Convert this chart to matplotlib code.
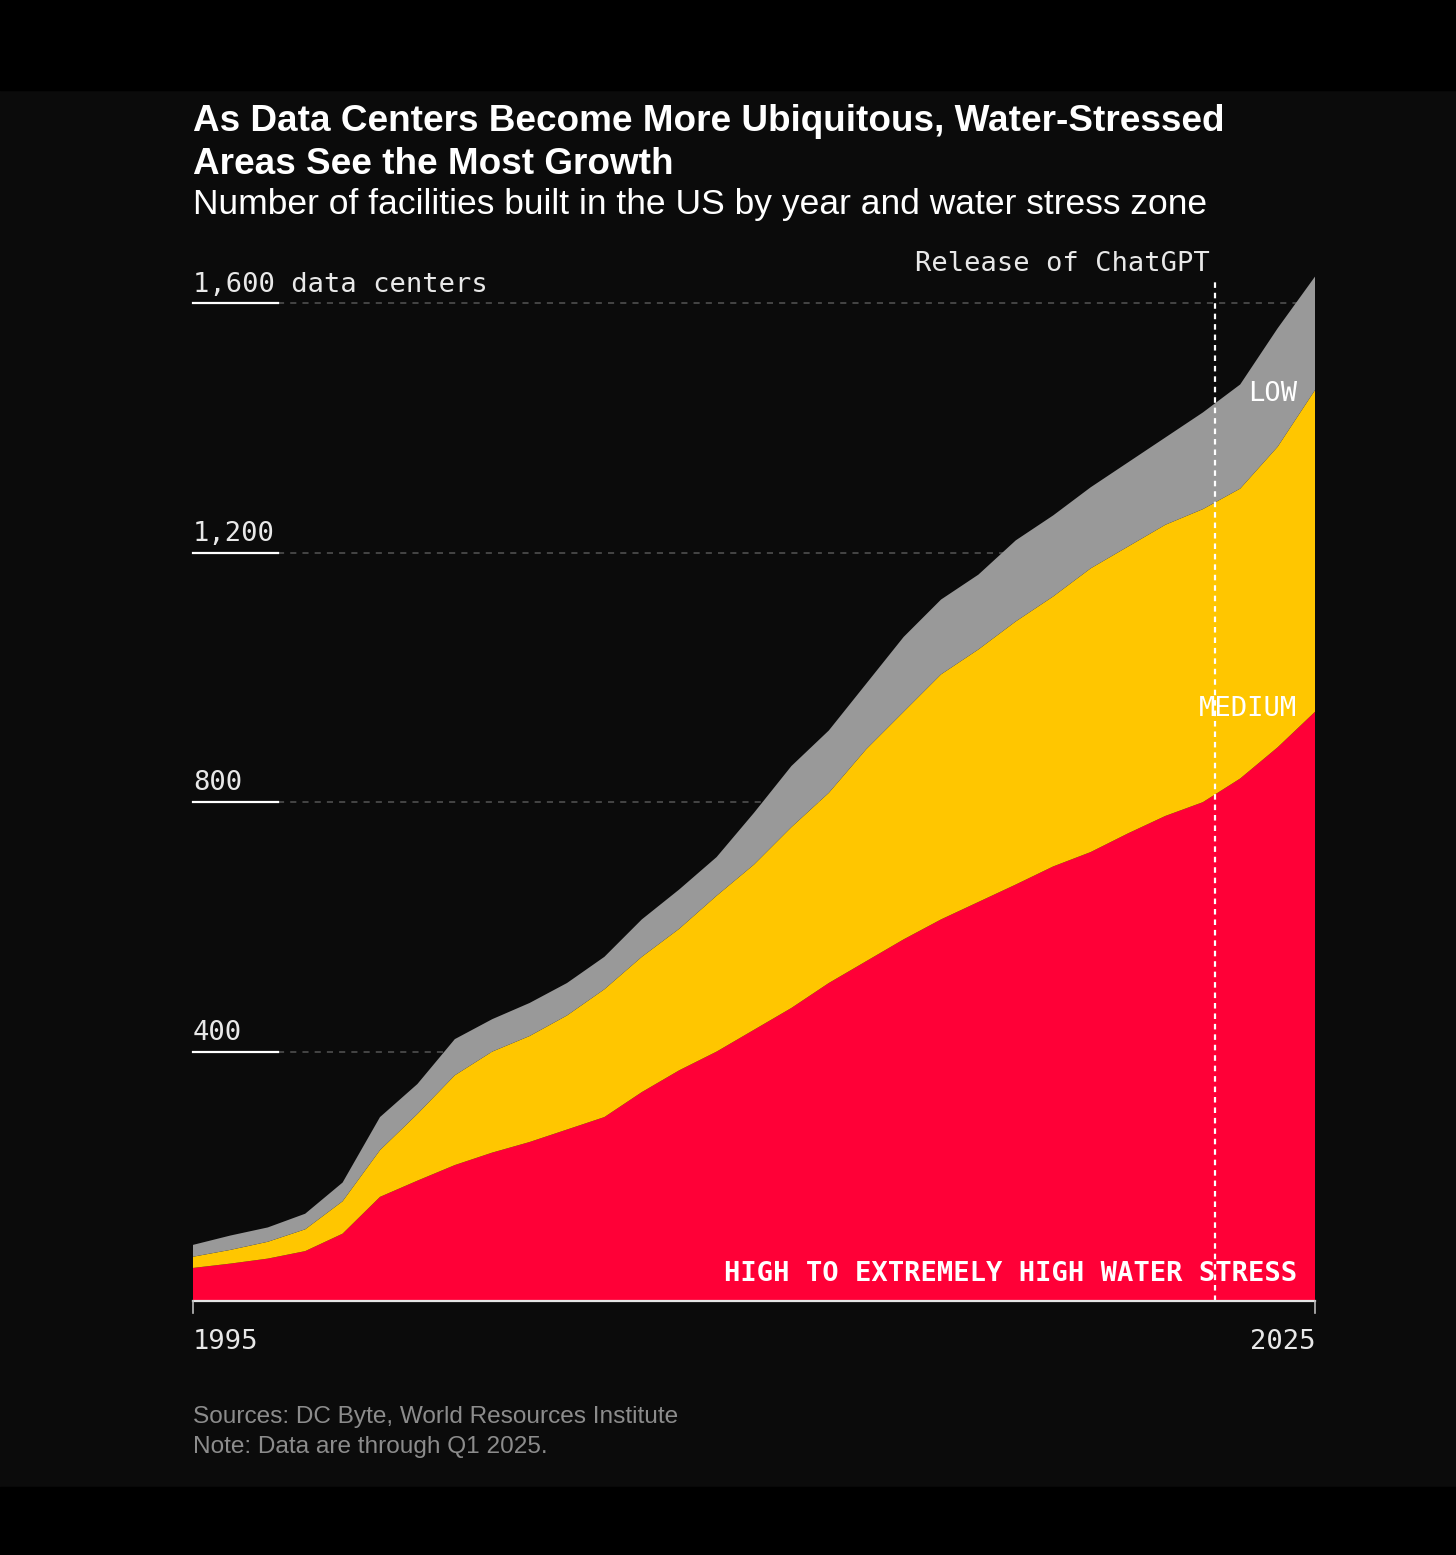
import numpy as np
import matplotlib.pyplot as plt
from matplotlib.patches import Rectangle

# Data (cumulative facilities by water stress zone)
years = list(range(1995, 2026))
high = [53, 60, 68, 80, 108, 167, 193, 218, 238, 255, 275, 295, 335, 370, 400, 435,
        470, 510, 545, 580, 612, 640, 668, 697, 720, 750, 778, 800, 838, 888, 945]
medium = [18, 22, 27, 35, 52, 75, 107, 144, 162, 170, 183, 205, 217, 227, 250, 265,
          290, 305, 340, 365, 393, 405, 422, 433, 455, 460, 467, 470, 465, 482, 516]
low = [19, 23, 23, 25, 30, 53, 48, 58, 52, 53, 52, 52, 60, 63, 62, 83,
       98, 100, 105, 120, 120, 120, 130, 130, 130, 135, 140, 155, 167, 190, 182]

yticks = [400, 800, 1200, 1600]
ytick_labels = ["400", "800", "1,200", "1,600 data centers"]
chatgpt_year = 2022.33

BG = "#0b0b0b"
RED = "#ff0037"
YELLOW = "#ffc600"
GRAY = "#999999"
MONO = "DejaVu Sans Mono"
SANS = "Liberation Sans"

W, H = 1456, 1555
fig = plt.figure(figsize=(W / 100, H / 100), dpi=100, facecolor=BG)


def fx(px):
    return px / W


def fy(py):
    return 1 - py / H


# black bands top and bottom
fig.patches.append(Rectangle((0, fy(90)), 1, 90 / H, transform=fig.transFigure,
                             color="black", zorder=0))
fig.patches.append(Rectangle((0, 0), 1, fy(1487), transform=fig.transFigure,
                             color="black", zorder=0))

ax = fig.add_axes([fx(193), fy(1301), fx(1315) - fx(193), fy(266) - fy(1301)])
ax.set_facecolor(BG)
ax.set_xlim(1995, 2025)
ax.set_ylim(0, 1660)
for s in ax.spines.values():
    s.set_visible(False)
ax.set_xticks([])
ax.set_yticks([])

# gridlines: short solid white underline then dashed gray
frac = (278 - 193) / (1315 - 193)
for t, lab in zip(yticks, ytick_labels):
    ax.axhline(t, xmin=frac, xmax=1, color="#555555", lw=1.1, ls=(0, (4, 4)), zorder=1)
    ax.axhline(t, xmin=0, xmax=frac, color="white", lw=1.6, zorder=5, clip_on=False)
    ax.text(1995, t + 19, lab, fontsize=19.5, family=MONO, color="#e8e8e8",
            ha="left", va="baseline")

ax.stackplot(years, high, medium, low, colors=[RED, YELLOW, GRAY], lw=0, zorder=2)

# x axis baseline and end ticks
ax.axhline(0, color="#e6e6e6", lw=1.6, zorder=6, clip_on=False)
for x in (1995, 2025):
    ax.plot([x, x], [0, -19], color="#bbbbbb", lw=1.2, clip_on=False, zorder=6)

# ChatGPT marker
ax.plot([chatgpt_year, chatgpt_year], [0, 1635], color="white", lw=1.6,
        ls=(0, (2.5, 2.2)), zorder=4, clip_on=False)
ax.text(chatgpt_year - 0.14, 1652, "Release of ChatGPT", fontsize=19.5, family=MONO,
        color="#e8e8e8", ha="right", va="baseline")

# zone labels
xr = 1995 + (1297 - 193) / 37.4
ax.text(xr, 1444, "LOW", fontsize=19.5, family=MONO, color="white",
        ha="right", va="baseline", zorder=7)
ax.text(xr, 938, "MEDIUM", fontsize=19.5, family=MONO, color="white",
        ha="right", va="baseline", zorder=7)
ax.text(xr, 32, "HIGH TO EXTREMELY HIGH WATER STRESS", fontsize=19.5, family=MONO,
        weight="bold", color="white", ha="right", va="baseline", zorder=7)

# x labels
fig.text(fx(193), fy(1349), "1995", fontsize=19.5, family=MONO, color="#e8e8e8",
         ha="left", va="baseline")
fig.text(fx(1315), fy(1349), "2025", fontsize=19.5, family=MONO, color="#e8e8e8",
         ha="right", va="baseline")

# titles
fig.text(fx(193), fy(131), "As Data Centers Become More Ubiquitous, Water-Stressed",
         fontsize=26.6, family=SANS, weight="bold", color="white", va="baseline")
fig.text(fx(193), fy(174), "Areas See the Most Growth",
         fontsize=26.6, family=SANS, weight="bold", color="white", va="baseline")
fig.text(fx(193), fy(214), "Number of facilities built in the US by year and water stress zone",
         fontsize=25.5, family=SANS, color="white", va="baseline")

# footer
fig.text(fx(193), fy(1423), "Sources: DC Byte, World Resources Institute",
         fontsize=17.6, family=SANS, color="#8c8c8c", va="baseline")
fig.text(fx(193), fy(1453), "Note: Data are through Q1 2025.",
         fontsize=17.6, family=SANS, color="#8c8c8c", va="baseline")

fig.savefig("out.png", dpi=100, facecolor=BG)
